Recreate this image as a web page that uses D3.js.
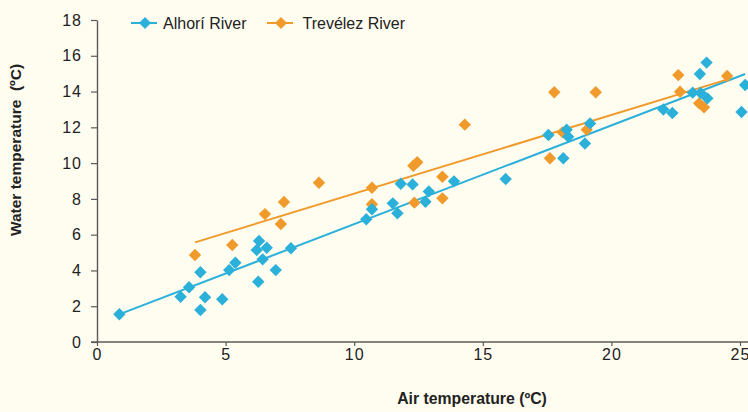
<!DOCTYPE html>
<html>
<head>
<meta charset="utf-8">
<script src="https://cdn.jsdelivr.net/npm/d3@7"></script>
<style>
html,body{margin:0;padding:0;background:#fffdf0;}
svg{display:block;}
text{font-family:"Liberation Sans",Arial,Helvetica,sans-serif;fill:#222;}
</style>
</head>
<body>
<script>
const seriesNames = ["Alhorí River", "Trevélez River"];
const alhoriAir = [0.87,3.25,3.58,4.02,4.02,4.2,4.87,5.14,5.38,6.21,6.3,6.6,6.44,6.27,6.95,7.54,
  10.47,10.69,11.5,11.68,11.81,12.27,12.9,12.77,13.88,15.89,17.55,18.13,18.26,18.32,18.97,19.17,
  22.02,22.37,23.16,23.47,23.73,23.44,23.7,25.2,25.06];
const alhoriWater = [1.55,2.53,3.06,3.9,1.79,2.5,2.39,4.02,4.43,5.14,5.65,5.27,4.62,3.37,4.02,5.24,
  6.86,7.42,7.75,7.2,8.85,8.81,8.42,7.84,8.98,9.11,11.57,10.27,11.87,11.48,11.1,12.22,
  13.0,12.8,13.94,13.92,13.62,14.98,15.62,14.37,12.86];
const trevelezAir = [3.81,5.26,6.53,7.27,7.15,8.63,10.69,10.69,12.3,12.45,13.43,12.34,13.43,14.3,
  17.78,19.39,17.61,18.1,19.04,22.6,22.67,23.41,23.6,24.5];
const trevelezWater = [4.86,5.42,7.15,7.83,6.6,8.9,8.62,7.7,9.85,10.05,9.24,7.79,8.03,12.15,
  13.96,13.96,10.27,11.72,11.87,14.92,13.99,13.34,13.12,14.87];
const alhoriTrendAir = [0.96, 25.2];
const alhoriTrendWater = [1.6, 14.98];
const trevelezTrendAir = [3.81, 24.52];
const trevelezTrendWater = [5.57, 14.68];
const xTicks = [0,5,10,15,20,25];
const yTicks = [0,2,4,6,8,10,12,14,16,18];
const xTitle = "Air temperature (ºC)";
const yTitle = "Water temperature  (ºC)";

const W = 748, H = 412;
const colors = ["#2bb0da", "#f19a2c"];
const svg = d3.select("body").append("svg").attr("width", W).attr("height", H);
svg.append("rect").attr("width", W).attr("height", H).attr("fill", "#fffdf0");

const x = d3.scaleLinear().domain([0, 25]).range([97, 740]);
const y = d3.scaleLinear().domain([0, 18]).range([342, 20]);
const axisColor = "#5a5a5a";

// x axis
const gx = svg.append("g").attr("transform", `translate(0,${y(0)})`)
  .call(d3.axisBottom(x).tickValues(xTicks).tickFormat(d3.format("d")).tickSize(4).tickPadding(3).tickSizeOuter(0));
gx.select(".domain").attr("d", `M${x(0) - 6},0H${W}`);
// y axis
const gy = svg.append("g").attr("transform", `translate(${x(0)},0)`)
  .call(d3.axisLeft(y).tickValues(yTicks).tickFormat(d3.format("d")).tickSize(6).tickPadding(9).tickSizeOuter(0));
[gx, gy].forEach(g => {
  g.select(".domain").attr("stroke", axisColor).attr("stroke-width", 1.4);
  g.selectAll(".tick line").attr("stroke", axisColor).attr("stroke-width", 1.2);
  g.selectAll(".tick text").attr("font-size", 16).attr("fill", "#222")
    .attr("font-family", '"Liberation Sans",Arial,sans-serif').style("letter-spacing", "1px");
});

// titles
svg.append("text").attr("x", 472).attr("y", 404).attr("text-anchor", "middle")
  .attr("font-size", 15.8).attr("font-weight", "bold").text(xTitle);
svg.append("text").attr("transform", "translate(21,150) rotate(-90)").attr("text-anchor", "middle")
  .attr("font-size", 15.5).attr("font-weight", "bold").style("white-space", "pre").text(yTitle);

const diamond = r => `M0,${-r}L${r},0L0,${r}L${-r},0Z`;
const line = d3.line().x(d => x(d[0])).y(d => y(d[1]));

// trend lines
svg.append("path").datum(d3.zip(alhoriTrendAir, alhoriTrendWater)).attr("d", line)
  .attr("stroke", colors[0]).attr("stroke-width", 2).attr("fill", "none");
svg.append("path").datum(d3.zip(trevelezTrendAir, trevelezTrendWater)).attr("d", line)
  .attr("stroke", colors[1]).attr("stroke-width", 2).attr("fill", "none");

// points
svg.append("g").selectAll("path").data(d3.zip(trevelezAir, trevelezWater)).join("path")
  .attr("d", diamond(6.2)).attr("fill", colors[1])
  .attr("transform", d => `translate(${x(d[0])},${y(d[1])})`);
svg.append("g").selectAll("path").data(d3.zip(alhoriAir, alhoriWater)).join("path")
  .attr("d", diamond(6.2)).attr("fill", colors[0])
  .attr("transform", d => `translate(${x(d[0])},${y(d[1])})`);

// legend
const legendX = [131, 267];
seriesNames.forEach((name, i) => {
  const g = svg.append("g").attr("transform", `translate(${legendX[i]},23)`);
  g.append("line").attr("x1", 0).attr("x2", 26).attr("stroke", colors[i]).attr("stroke-width", 2);
  g.append("path").attr("d", diamond(6)).attr("fill", colors[i]).attr("transform", "translate(14,0)");
  g.append("text").attr("x", i === 0 ? 32 : 35.5).attr("y", 5.5).attr("font-size", 16).text(name);
});
</script>
</body>
</html>
